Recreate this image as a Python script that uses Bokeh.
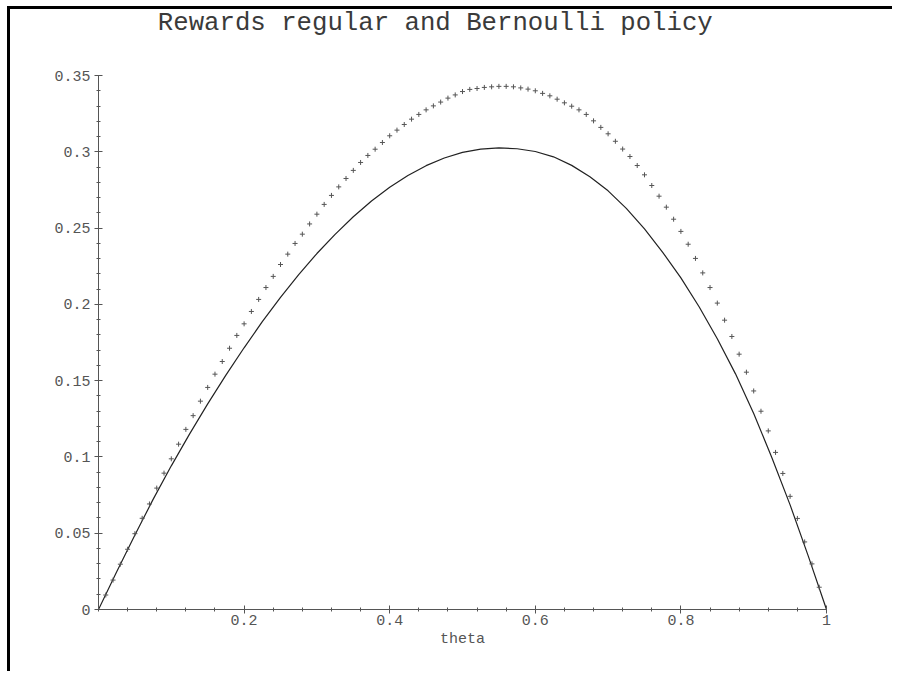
from bokeh.plotting import figure
from bokeh.models import FixedTicker, CustomJSTickFormatter, Range1d, Label
from bokeh.embed import file_html
from bokeh.resources import INLINE

# ---- data ----
theta_bern = [i / 100 for i in range(101)]
reward_bern = [
    0.0, 0.0095, 0.0193, 0.0297, 0.0395, 0.0497, 0.0598, 0.0692, 0.0796, 0.0894,
    0.0988, 0.1084, 0.1181, 0.1271, 0.1366, 0.1456, 0.1543, 0.1626, 0.1713, 0.1797,
    0.1873, 0.1954, 0.2033, 0.2111, 0.2184, 0.2262, 0.2330, 0.2400, 0.2461, 0.2528,
    0.2592, 0.2656, 0.2715, 0.2771, 0.2826, 0.2879, 0.2931, 0.2977, 0.3018, 0.3062,
    0.3106, 0.3143, 0.3180, 0.3215, 0.3246, 0.3276, 0.3302, 0.3327, 0.3353, 0.3374,
    0.3396, 0.3410, 0.3416, 0.3423, 0.3427, 0.3430, 0.3430, 0.3427, 0.3420, 0.3412,
    0.3401, 0.3384, 0.3368, 0.3346, 0.3322, 0.3300, 0.3276, 0.3246, 0.3204, 0.3161,
    0.3119, 0.3070, 0.3019, 0.2970, 0.2911, 0.2850, 0.2780, 0.2710, 0.2638, 0.2559,
    0.2479, 0.2395, 0.2302, 0.2207, 0.2111, 0.2009, 0.1897, 0.1790, 0.1674, 0.1556,
    0.1433, 0.1300, 0.1171, 0.1030, 0.0892, 0.0742, 0.0597, 0.0443, 0.0299, 0.0146,
    0.0,
]

theta_reg = [0, 0.025, 0.05, 0.075, 0.10, 0.125, 0.15, 0.175, 0.20, 0.225,
             0.25, 0.275, 0.30, 0.325, 0.35, 0.375, 0.40, 0.425, 0.45, 0.475, 0.50,
             0.525, 0.55, 0.575, 0.60, 0.625, 0.65, 0.675, 0.70, 0.725, 0.75, 0.775,
             0.80, 0.825, 0.85, 0.875, 0.90, 0.925, 0.95, 0.975, 1.0]
reward_reg = [0.0, 0.0248, 0.0488, 0.0722, 0.0942, 0.1150, 0.1348, 0.1537, 0.1716,
              0.1887, 0.2047, 0.2196, 0.2334, 0.2460, 0.2575, 0.2678, 0.2768, 0.2846,
              0.2910, 0.2960, 0.2997, 0.3019, 0.3027, 0.3021, 0.3003, 0.2968, 0.2912,
              0.2838, 0.2745, 0.2630, 0.2495, 0.2342, 0.2174, 0.1985, 0.1775, 0.1545,
              0.1285, 0.0995, 0.0686, 0.0350, 0.0]

x_major = [0.2, 0.4, 0.6, 0.8, 1.0]
x_minor = [round(i * 0.04, 2) for i in range(26)]
y_major = [0, 0.05, 0.1, 0.15, 0.2, 0.25, 0.3, 0.35]
y_minor = [round(i * 0.01, 2) for i in range(36)]

title_text = "Rewards regular and Bernoulli policy"
x_label = "theta"

FONT = "Liberation Mono"
GREY = "#555555"

# the frame reaches the top of the canvas so the title can sit inside it;
# the y axis itself is bounded to 0..0.35 like the original
p = figure(width=885, height=665, output_backend="svg", toolbar_location=None,
           x_range=Range1d(0, 1), y_range=Range1d(0, 0.3934),
           min_border_left=88, min_border_right=69, min_border_top=0,
           min_border_bottom=65)
p.styles = {"border-top": "3px solid black", "border-left": "3px solid black",
            "margin-top": "6px", "margin-left": "7px"}

p.add_layout(Label(x=0.0815, y=0.3845, text=title_text, text_font=FONT,
                   text_font_size="25.7px", text_color="#3a3a3a",
                   text_align="left", text_baseline="alphabetic"))

p.outline_line_color = None
p.xgrid.visible = False
p.ygrid.visible = False

fmt = CustomJSTickFormatter(code="return tick.toString();")

for ax, major, minor in ((p.xaxis[0], x_major, x_minor), (p.yaxis[0], y_major, y_minor)):
    ax.ticker = FixedTicker(ticks=major, minor_ticks=minor)
    ax.formatter = fmt
    ax.axis_line_color = GREY
    ax.major_tick_line_color = GREY
    ax.minor_tick_line_color = GREY
    ax.major_tick_in = 4
    ax.major_tick_out = 4
    ax.minor_tick_in = 2
    ax.minor_tick_out = 2
    ax.major_label_text_font = FONT
    ax.major_label_text_font_size = "15px"
    ax.major_label_text_color = GREY

p.yaxis.bounds = (0, 0.35)
p.xaxis.major_label_standoff = 1
p.yaxis.major_label_standoff = 4

p.xaxis.axis_label = x_label
p.xaxis.axis_label_text_font = FONT
p.xaxis.axis_label_text_font_size = "15px"
p.xaxis.axis_label_text_font_style = "normal"
p.xaxis.axis_label_text_color = GREY
p.xaxis.axis_label_standoff = 3

p.line(theta_reg, reward_reg, line_color="#222222", line_width=1.2)
p.scatter(theta_bern, reward_bern, marker="cross", size=5, line_color="#555555",
          line_width=1)

open("out.html", "w").write(file_html(p, INLINE))
